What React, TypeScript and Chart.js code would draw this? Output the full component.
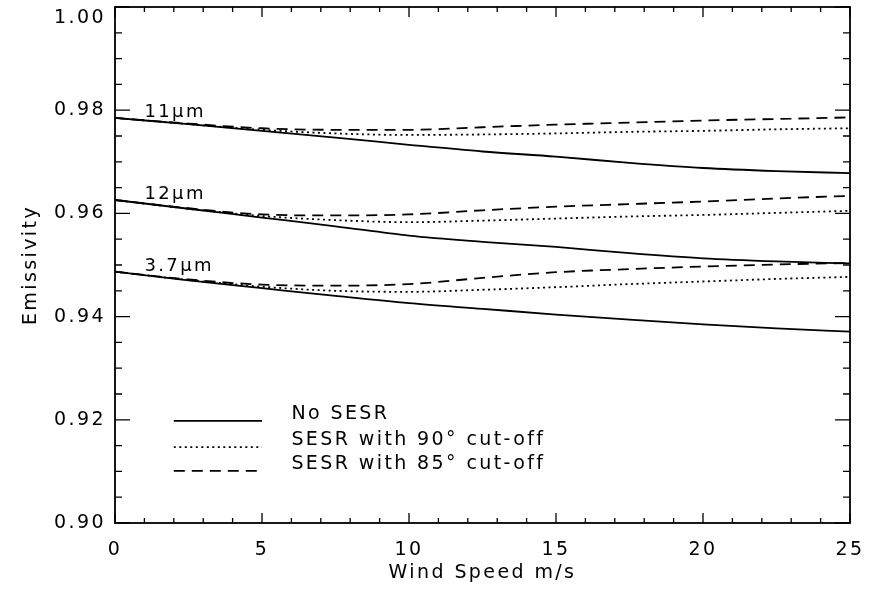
import React, { useEffect, useRef } from "react";
import { Chart, registerables } from "chart.js";

Chart.register(...registerables);

const windSpeed = [0, 2.5, 5, 7.5, 10, 12.5, 15, 17.5, 20, 22.5, 25];

const em11NoSESR = [0.9785, 0.9773, 0.976, 0.9747, 0.9733, 0.972, 0.971, 0.9698, 0.9688, 0.9682, 0.9678];
const em11Cut90 = [0.9785, 0.9773, 0.9762, 0.9755, 0.9752, 0.9753, 0.9755, 0.9758, 0.976, 0.9763, 0.9765];
const em11Cut85 = [0.9785, 0.9774, 0.9765, 0.9762, 0.9762, 0.9767, 0.9772, 0.9776, 0.978, 0.9783, 0.9786];

const em12NoSESR = [0.9626, 0.9609, 0.9592, 0.9575, 0.9557, 0.9545, 0.9535, 0.9523, 0.9513, 0.9507, 0.9503];
const em12Cut90 = [0.9626, 0.9609, 0.9595, 0.9587, 0.9583, 0.9586, 0.959, 0.9594, 0.9597, 0.9601, 0.9605];
const em12Cut85 = [0.9626, 0.961, 0.9598, 0.9596, 0.9598, 0.9606, 0.9613, 0.9618, 0.9623, 0.9629, 0.9634];

const em37NoSESR = [0.9487, 0.947, 0.9455, 0.944, 0.9426, 0.9415, 0.9404, 0.9394, 0.9385, 0.9377, 0.9371];
const em37Cut90 = [0.9487, 0.9471, 0.9458, 0.945, 0.9448, 0.9452, 0.9457, 0.9463, 0.9468, 0.9473, 0.9477];
const em37Cut85 = [0.9487, 0.9472, 0.9462, 0.946, 0.9463, 0.9475, 0.9486, 0.9492, 0.9497, 0.9501, 0.9504];

const seriesLabels = ["No SESR", "SESR with 90\u00b0 cut-off", "SESR with 85\u00b0 cut-off"];
const bandLabels = ["11\u03bcm", "12\u03bcm", "3.7\u03bcm"];
const bandLabelX = [1, 1, 1];
const bandLabelY = [0.9785, 0.9626, 0.9487];
const legendRowY = [0.9198, 0.9147, 0.9101];

const xTitle = "Wind Speed m/s";
const yTitle = "Emissivity";

const INK = "#000";
const FONT = "'DejaVu Sans', sans-serif";
const FS = 19;
const SPACING = "2.4px";
const DASH_SOLID: number[] = [];
const DASH_DOT: number[] = [2, 3.5];
const DASH_DASH: number[] = [11, 7];
const dashes = [DASH_SOLID, DASH_DOT, DASH_DASH];

function mk(label: string, data: number[], dash: number[]) {
  return {
    label,
    data: data.map((v, i) => ({ x: windSpeed[i], y: v })),
    borderColor: INK,
    borderWidth: 1.8,
    borderDash: dash,
    pointRadius: 0,
    fill: false,
    cubicInterpolationMode: "monotone" as const,
  };
}

const framePlugin = {
  id: "frameTicks",
  beforeDraw(chart: any) {
    chart.ctx.letterSpacing = SPACING;
  },
  afterDatasetsDraw(chart: any) {
    const { ctx, chartArea: a, scales } = chart;
    const xs = scales.x;
    const ys = scales.y;
    ctx.save();
    ctx.letterSpacing = SPACING;
    ctx.strokeStyle = INK;
    ctx.lineWidth = 1.8;
    ctx.setLineDash([]);
    ctx.strokeRect(a.left, a.top, a.right - a.left, a.bottom - a.top);
    ctx.lineWidth = 1.3;
    for (let v = 0; v <= 25; v += 1) {
      const px = xs.getPixelForValue(v);
      const len = v % 5 === 0 ? 10 : 5;
      ctx.beginPath();
      ctx.moveTo(px, a.bottom);
      ctx.lineTo(px, a.bottom - len);
      ctx.moveTo(px, a.top);
      ctx.lineTo(px, a.top + len);
      ctx.stroke();
    }
    for (let i = 0; i <= 20; i++) {
      const v = 0.9 + i * 0.005;
      const py = ys.getPixelForValue(v);
      const len = i % 4 === 0 ? 15 : 7;
      ctx.beginPath();
      ctx.moveTo(a.left, py);
      ctx.lineTo(a.left + len, py);
      ctx.moveTo(a.right, py);
      ctx.lineTo(a.right - len, py);
      ctx.stroke();
    }
    // band labels
    ctx.fillStyle = INK;
    ctx.font = `${FS - 1}px ${FONT}`;
    ctx.textAlign = "left";
    ctx.textBaseline = "alphabetic";
    bandLabels.forEach((t, i) => {
      ctx.fillText(t, xs.getPixelForValue(bandLabelX[i]), ys.getPixelForValue(bandLabelY[i]) - 1);
    });
    // legend
    ctx.font = `${FS}px ${FONT}`;
    const lx0 = xs.getPixelForValue(2);
    const lx1 = xs.getPixelForValue(5);
    const tx = xs.getPixelForValue(6);
    seriesLabels.forEach((t, i) => {
      const py = ys.getPixelForValue(legendRowY[i]);
      ctx.beginPath();
      ctx.setLineDash(dashes[i]);
      ctx.lineWidth = 1.8;
      ctx.moveTo(lx0, py);
      ctx.lineTo(lx1, py);
      ctx.stroke();
      ctx.setLineDash([]);
      ctx.textBaseline = "middle";
      ctx.fillText(t, tx, py - 7);
    });
    ctx.restore();
  },
};

export default function App() {
  const ref = useRef<HTMLCanvasElement | null>(null);
  useEffect(() => {
    document.body.style.margin = "0";
    if (!ref.current) return;
    const chart = new Chart(ref.current, {
      type: "line",
      data: {
        datasets: [
          mk("11 " + seriesLabels[0], em11NoSESR, DASH_SOLID),
          mk("11 " + seriesLabels[1], em11Cut90, DASH_DOT),
          mk("11 " + seriesLabels[2], em11Cut85, DASH_DASH),
          mk("12 " + seriesLabels[0], em12NoSESR, DASH_SOLID),
          mk("12 " + seriesLabels[1], em12Cut90, DASH_DOT),
          mk("12 " + seriesLabels[2], em12Cut85, DASH_DASH),
          mk("3.7 " + seriesLabels[0], em37NoSESR, DASH_SOLID),
          mk("3.7 " + seriesLabels[1], em37Cut90, DASH_DOT),
          mk("3.7 " + seriesLabels[2], em37Cut85, DASH_DASH),
        ],
      },
      options: {
        animation: false,
        responsive: false,
        layout: { padding: { top: 7, right: 29, left: 0, bottom: 0 } },
        plugins: { legend: { display: false }, tooltip: { enabled: false }, title: { display: false } },
        scales: {
          x: {
            type: "linear",
            min: 0,
            max: 25,
            grid: { display: false, drawTicks: false },
            border: { display: false },
            ticks: { stepSize: 5, color: INK, font: { family: FONT, size: FS }, padding: 16, maxRotation: 0 },
            title: { display: true, text: xTitle, color: INK, font: { family: FONT, size: FS }, padding: { top: 0, bottom: 6 } },
            afterFit: (s: any) => {
              s.height = 67;
              s.paddingLeft = 0;
              s.paddingRight = 0;
            },
          },
          y: {
            type: "linear",
            min: 0.9,
            max: 1.0,
            grid: { display: false, drawTicks: false },
            border: { display: false },
            ticks: {
              stepSize: 0.02,
              color: INK,
              font: { family: FONT, size: FS },
              padding: 9,
              callback: (v: any) => {
                const s = Number(v).toFixed(2);
                return Math.abs(Number(v) - 1) < 1e-9 ? ["", s] : s;
              },
            },
            title: { display: true, text: yTitle, color: INK, font: { family: FONT, size: FS }, padding: { top: 20, bottom: 0 } },
            afterFit: (s: any) => {
              s.width = 115;
              s.paddingTop = 0;
              s.paddingBottom = 0;
            },
          },
        },
      },
      plugins: [framePlugin],
    });
    return () => chart.destroy();
  }, []);
  return (
    <div style={{ width: 879, height: 590, background: "#fff" }}>
      <canvas ref={ref} width={879} height={590} style={{ display: "block" }} />
    </div>
  );
}
